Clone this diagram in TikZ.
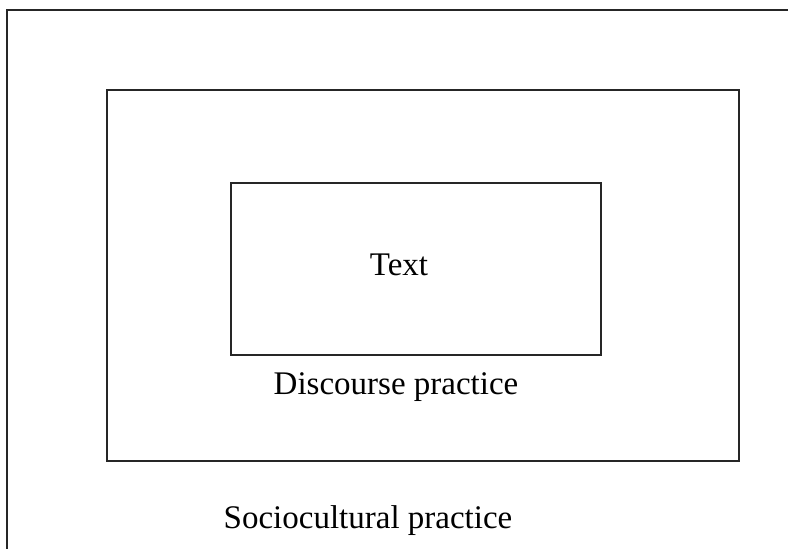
\documentclass[tikz,border=0pt]{standalone}
\usepackage{fontspec}
\setmainfont{Liberation Serif}
\begin{document}
\begin{tikzpicture}[x=1pt,y=1pt,
  frame/.style={draw=black!85,line width=1.8pt},
  lbl/.style={font=\fontsize{33}{37}\selectfont,inner sep=0pt}]
\useasboundingbox (0,0) rectangle (788,549);
\clip (0,0) rectangle (788,549);
\fill[white] (0,0) rectangle (788,549);
\coordinate (o1) at (7,-20);
\coordinate (o2) at (7,539);
\coordinate (o3) at (810,539);
\draw[frame] (o1) -- (o2) -- (o3);
\node[frame,inner sep=0pt,minimum width=632pt,minimum height=371pt,anchor=south west] (mid) at (106,87) {};
\node[frame,inner sep=0pt,minimum width=370pt,minimum height=172pt,anchor=south west] (inner) at (230,193) {};
\node[lbl] (t) at (399,284) {Text};
\node[lbl] (d) at (396,162) {Discourse practice};
\node[lbl] (s) at (368,28) {Sociocultural practice};
\end{tikzpicture}
\end{document}
